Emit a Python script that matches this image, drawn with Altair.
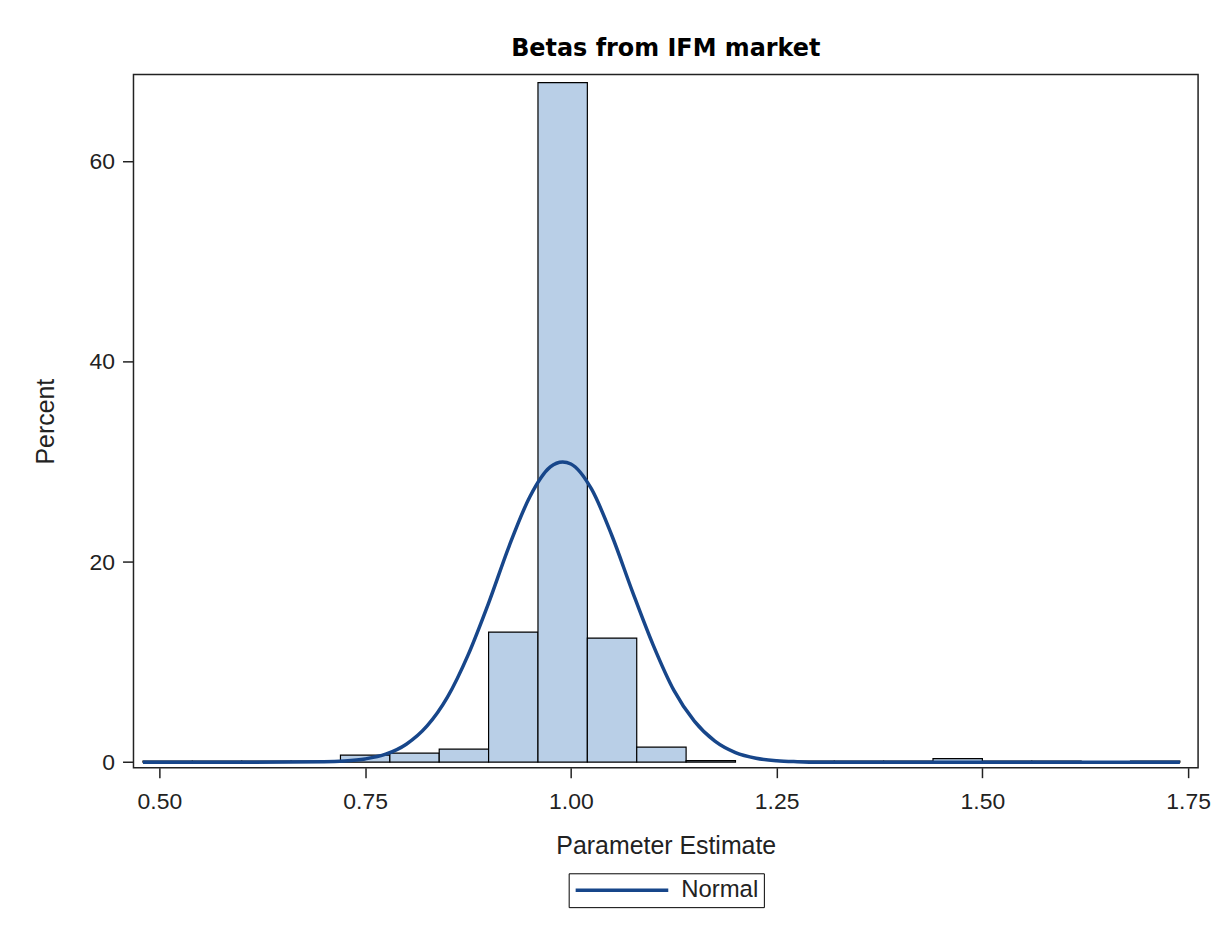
import altair as alt
import pandas as pd

# Histogram bins (Parameter Estimate) and percent heights
bin_start = [0.48, 0.54, 0.60, 0.66, 0.72, 0.78, 0.84, 0.90, 0.96, 1.02,
             1.08, 1.14, 1.26, 1.32, 1.38, 1.44, 1.50, 1.56, 1.68]
bin_end = [0.54, 0.60, 0.66, 0.72, 0.78, 0.84, 0.90, 0.96, 1.02, 1.08,
           1.14, 1.20, 1.32, 1.38, 1.44, 1.50, 1.56, 1.62, 1.74]
percent = [0.1, 0.1, 0.1, 0.1, 0.7, 0.9, 1.3, 13.0, 67.9, 12.4,
           1.5, 0.15, 0.1, 0.1, 0.1, 0.35, 0.1, 0.1, 0.1]

# Normal curve points
curve_x = [0.48, 0.60, 0.70, 0.725, 0.75, 0.775, 0.80, 0.825, 0.85, 0.875,
           0.90, 0.925, 0.95, 0.975, 0.99, 1.00, 1.025, 1.05, 1.075, 1.10,
           1.125, 1.15, 1.175, 1.20, 1.225, 1.25, 1.275, 1.30, 1.50, 1.74]
curve_y = [0.0, 0.0, 0.04, 0.12, 0.33, 0.8, 1.8, 3.6, 6.5, 10.7,
           15.9, 21.6, 26.5, 29.5, 30.0, 29.8, 27.3, 22.6, 17.0, 11.7,
           7.2, 4.1, 2.1, 0.96, 0.4, 0.15, 0.05, 0.0, 0.0, 0.0]

x_ticks = [0.50, 0.75, 1.00, 1.25, 1.50, 1.75]
y_ticks = [0, 20, 40, 60]

bars_df = pd.DataFrame({"start": bin_start, "end": bin_end, "pct": percent})
curve_df = pd.DataFrame({"x": curve_x, "y": curve_y, "series": ["Normal"] * len(curve_x)})

x_scale = alt.Scale(domain=[0.4685, 1.7621], nice=False, zero=False)
y_scale = alt.Scale(domain=[-0.55, 68.7], nice=False, zero=False)

x_axis = alt.Axis(values=x_ticks, format=".2f", title="Parameter Estimate",
                  grid=False, domain=False, tickSize=10, tickWidth=1.5,
                  tickColor="#222", labelFont="Liberation Sans", labelFontSize=23,
                  labelColor="#222", labelPadding=13, titleFont="Liberation Sans",
                  titleFontSize=25, titleFontWeight="normal", titleColor="#222",
                  titlePadding=20, labelFlush=False)
y_axis = alt.Axis(values=y_ticks, title="Percent", grid=False, domain=False,
                  tickSize=11, tickWidth=1.5, tickColor="#222",
                  labelFont="Liberation Sans", labelFontSize=23, labelColor="#222",
                  labelPadding=8, titleFont="Liberation Sans", titleFontSize=25,
                  titleFontWeight="normal", titleColor="#222", titlePadding=31,
                  labelFlush=False)

bars = alt.Chart(bars_df).mark_rect(fill="#b9cfe7", stroke="black", strokeWidth=1.2).encode(
    x=alt.X("start:Q", scale=x_scale, axis=x_axis),
    x2="end:Q",
    y=alt.Y("pct:Q", scale=y_scale, axis=y_axis),
    y2=alt.datum(0),
)

curve = alt.Chart(curve_df).mark_line(strokeWidth=3.5, interpolate="monotone").encode(
    x=alt.X("x:Q", scale=x_scale),
    y=alt.Y("y:Q", scale=y_scale),
    color=alt.Color("series:N", scale=alt.Scale(domain=["Normal"], range=["#17468a"]),
                    legend=alt.Legend(title=None, orient="none", legendX=437, legendY=802,
                                      symbolType="stroke", symbolSize=8649,
                                      symbolStrokeWidth=3.5, clipHeight=24,
                                      labelFont="Liberation Sans", labelFontSize=24,
                                      labelColor="#222", labelOffset=11,
                                      strokeColor="black", padding=5)),
)

chart = alt.layer(bars, curve).properties(
    width=1069,
    height=696,
    background="white",
    autosize=alt.AutoSizeParams(type="none"),
    padding={"left": 126, "top": 65, "right": 20, "bottom": 140},
    title=alt.TitleParams("Betas from IFM market", font="DejaVu Sans", fontSize=24,
                          fontWeight="bold", color="black", anchor="middle", offset=14),
).configure_view(stroke="#222", strokeWidth=1.5)

chart.save("out.html", embed_options={"renderer": "svg", "actions": False})
